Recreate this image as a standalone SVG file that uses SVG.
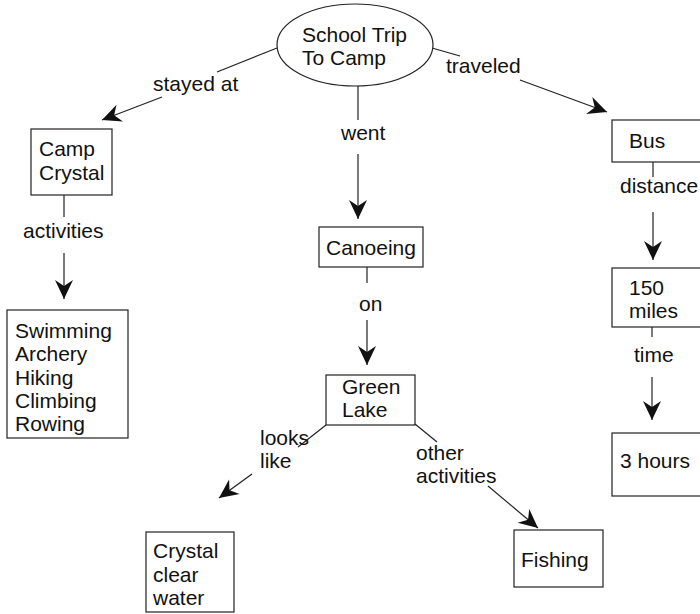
<svg xmlns="http://www.w3.org/2000/svg" width="700" height="614" viewBox="0 0 700 614">
<defs>
<style>
text{font-family:"Liberation Sans",Arial,sans-serif;font-size:21px;fill:#111}
.box{fill:#fff;stroke:#222;stroke-width:1.2}
.ln{fill:none;stroke:#222;stroke-width:1.2}
.ar{marker-end:url(#ah)}
</style>
<marker id="ah" markerUnits="userSpaceOnUse" markerWidth="24" markerHeight="24" viewBox="-20 -12 22 24" refX="0" refY="0" orient="auto">
<path d="M0,0 L-19,-9 L-13,0 L-19,9 Z" fill="#111"/>
</marker>
</defs>
<rect width="700" height="614" fill="#fff"/>
<g id="connectors">
<path class="ln" d="M277,48 L217,72"/>
<path class="ln ar" d="M162,97 L102,120"/>
<path class="ln" d="M64,195 L64,217"/>
<path class="ln ar" d="M64,253 L64,299"/>
<path class="ln" d="M358,86 L358,120"/>
<path class="ln ar" d="M358,154 L358,219"/>
<path class="ln" d="M432,48 L460,56"/>
<path class="ln ar" d="M520,80 L607,112"/>
<path class="ln" d="M367,267 L367,283"/>
<path class="ln ar" d="M367,320 L367,365"/>
<path class="ln" d="M326,425 L298,447"/>
<path class="ln ar" d="M252,474 L219,498"/>
<path class="ln" d="M415,424 L437,442"/>
<path class="ln ar" d="M488,486 L538,528"/>
<path class="ln" d="M653,162 L653,177"/>
<path class="ln ar" d="M653,212 L653,260"/>
<path class="ln" d="M652,327 L652,337"/>
<path class="ln ar" d="M652,377 L652,420"/>
<text x="153" y="91">stayed at</text>
<text x="23" y="238">activities</text>
<text x="341" y="140">went</text>
<text x="446" y="73">traveled</text>
<text x="359" y="311">on</text>
<text x="260" y="445">looks</text>
<text x="260" y="468">like</text>
<text x="416" y="460">other</text>
<text x="416" y="483">activities</text>
<text x="620" y="193">distance</text>
<text x="634" y="362">time</text>
</g>
<g id="school-trip">
<ellipse cx="355" cy="45" rx="78" ry="41" class="box"/>
<text x="302" y="42">School Trip</text>
<text x="302" y="65">To Camp</text>
</g>
<g id="camp-crystal">
<rect x="31" y="129" width="81" height="66" class="box"/>
<text x="39" y="156">Camp</text>
<text x="39" y="180">Crystal</text>
</g>
<g id="activities-list">
<rect x="7" y="310" width="121" height="128" class="box"/>
<text x="15" y="338">Swimming</text>
<text x="15" y="361">Archery</text>
<text x="15" y="385">Hiking</text>
<text x="15" y="408">Climbing</text>
<text x="15" y="431">Rowing</text>
</g>
<g id="canoeing">
<rect x="319" y="227" width="104" height="40" class="box"/>
<text x="326" y="255">Canoeing</text>
</g>
<g id="green-lake">
<rect x="326" y="375" width="89" height="50" class="box"/>
<text x="342" y="394">Green</text>
<text x="342" y="417">Lake</text>
</g>
<g id="crystal-clear-water">
<rect x="146" y="532" width="88" height="80" class="box"/>
<text x="153" y="558">Crystal</text>
<text x="153" y="582">clear</text>
<text x="153" y="605">water</text>
</g>
<g id="fishing">
<rect x="514" y="530" width="89" height="57" class="box"/>
<text x="521" y="567">Fishing</text>
</g>
<g id="bus">
<rect x="612" y="120" width="100" height="42" class="box"/>
<text x="629" y="148">Bus</text>
</g>
<g id="miles">
<rect x="612" y="268" width="100" height="59" class="box"/>
<text x="629" y="295">150</text>
<text x="629" y="318">miles</text>
</g>
<g id="hours">
<rect x="612" y="433" width="100" height="63" class="box"/>
<text x="620" y="468">3 hours</text>
</g>
</svg>
